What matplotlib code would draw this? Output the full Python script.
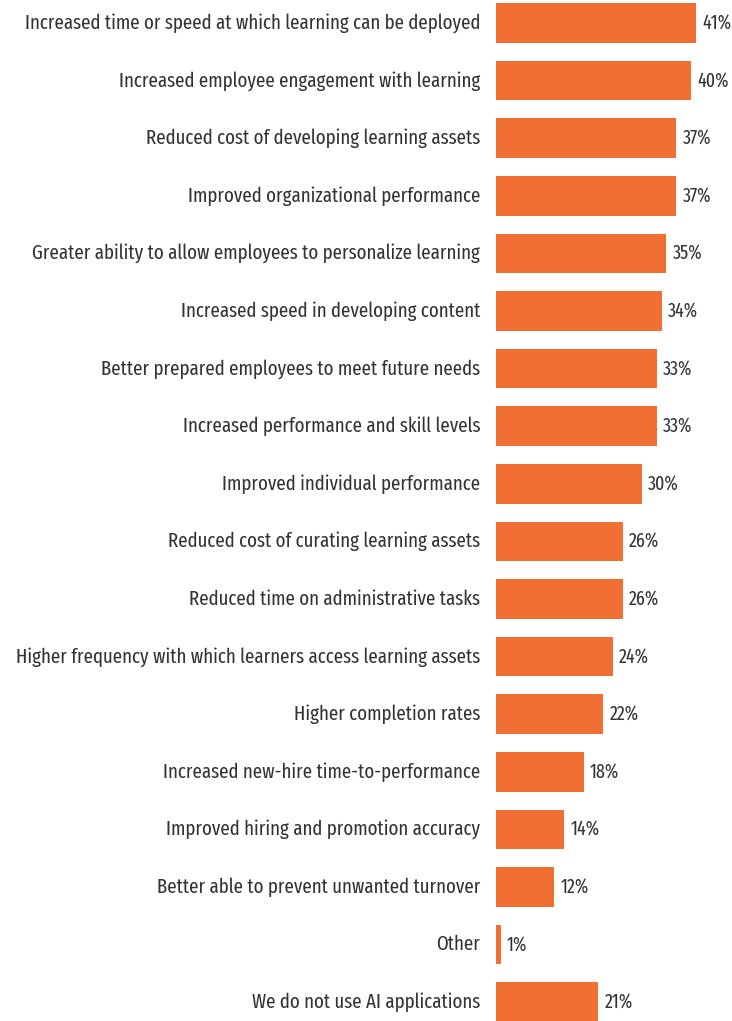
import matplotlib.pyplot as plt

labels = [
    "Increased time or speed at which learning can be deployed",
    "Increased employee engagement with learning",
    "Reduced cost of developing learning assets",
    "Improved organizational performance",
    "Greater ability to allow employees to personalize learning",
    "Increased speed in developing content",
    "Better prepared employees to meet future needs",
    "Increased performance and skill levels",
    "Improved individual performance",
    "Reduced cost of curating learning assets",
    "Reduced time on administrative tasks",
    "Higher frequency with which learners access learning assets",
    "Higher completion rates",
    "Increased new-hire time-to-performance",
    "Improved hiring and promotion accuracy",
    "Better able to prevent unwanted turnover",
    "Other",
    "We do not use AI applications",
]
values = [41, 40, 37, 37, 35, 34, 33, 33, 30, 26, 26, 24, 22, 18, 14, 12, 1, 21]

plt.rcParams["font.family"] = ["Fira Sans Extra Condensed", "Fira Sans Condensed", "DejaVu Sans"]

orange = "#F26F33"
txt = "#333333"

W, H = 732, 1021
fig = plt.figure(figsize=(W / 100, H / 100), dpi=100)
# bars start at x=496px, about 4.87 px per percentage point
ax = fig.add_axes([496 / W, 0, (48 * 4.87) / W, 1])
pitch = 57.6
ax.set_ylim((H - 23) / pitch, -23 / pitch)
ax.set_xlim(0, 48)

y = list(range(len(values)))
ax.barh(y, values, height=0.69, color=orange)

for i, (lab, v) in enumerate(zip(labels, values)):
    ax.annotate(lab, (0, i), xytext=(-11.5, 0), textcoords="offset points",
                ha="right", va="center", fontsize=14.8, color=txt)
    ax.annotate(f"{v}%", (v, i), xytext=(4.5, 0), textcoords="offset points",
                ha="left", va="center", fontsize=14, color=txt)

ax.axis("off")
fig.savefig("out.png", dpi=100)
